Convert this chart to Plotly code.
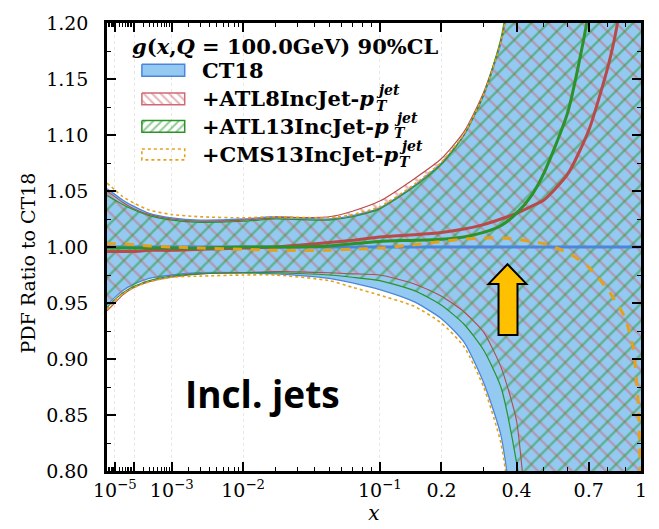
import numpy as np
import plotly.graph_objects as go

# ---------------- data ----------------
P = 0.2815  # power used for the x-axis scale

X = [2e-6, 1e-5, 3e-5, 1e-4, 3e-4, 1e-3, 3e-3, 0.01, 0.02, 0.05, 0.07, 0.1, 0.15, 0.2,
     0.25, 0.3, 0.35, 0.4, 0.45, 0.5, 0.6, 0.7, 0.8, 0.85, 0.9, 0.95, 0.98, 1.0]

CT18_up = [1.052, 1.047, 1.042, 1.036, 1.030, 1.026, 1.024, 1.025, 1.027, 1.025, 1.028, 1.035, 1.055, 1.075,
           1.100, 1.135, 1.182, 1.26, 1.35, 1.45, 1.6, 1.8, 2.0, 2.1, 2.2, 2.3, 2.4, 2.5]
CT18_lo = [0.948, 0.955, 0.961, 0.967, 0.972, 0.975, 0.977, 0.977, 0.976, 0.972, 0.968, 0.962, 0.951, 0.936,
           0.915, 0.879, 0.832, 0.74, 0.68, 0.62, 0.5, 0.4, 0.3, 0.25, 0.2, 0.15, 0.12, 0.1]
CT18_c = [1.000, 1.000, 1.000, 1.000, 1.000, 1.000, 1.000, 1.000, 1.000, 1.000, 1.000, 1.000, 1.000, 1.000,
          1.000, 1.000, 1.000, 1.000, 1.000, 1.000, 1.000, 1.000, 1.000, 1.000, 1.000, 1.000, 1.000, 1.000]

ATL8_up = [1.050, 1.045, 1.040, 1.034, 1.029, 1.025, 1.023, 1.024, 1.026, 1.027, 1.032, 1.041, 1.061, 1.079,
           1.103, 1.138, 1.184, 1.26, 1.35, 1.45, 1.6, 1.8, 2.0, 2.1, 2.2, 2.3, 2.4, 2.5]
ATL8_lo = [0.943, 0.950, 0.957, 0.964, 0.969, 0.973, 0.976, 0.977, 0.978, 0.977, 0.976, 0.975, 0.967, 0.956,
           0.942, 0.924, 0.893, 0.845, 0.72, 0.64, 0.52, 0.42, 0.32, 0.27, 0.22, 0.17, 0.13, 0.1]
ATL8_c = [0.996, 0.996, 0.996, 0.996, 0.997, 0.997, 0.998, 0.999, 1.000, 1.004, 1.006, 1.009, 1.011, 1.013,
          1.016, 1.020, 1.025, 1.030, 1.036, 1.042, 1.065, 1.104, 1.160, 1.195, 1.25, 1.31, 1.35, 1.38]

ATL13_up = [1.046, 1.042, 1.038, 1.033, 1.028, 1.024, 1.022, 1.023, 1.025, 1.024, 1.027, 1.034, 1.054, 1.074,
            1.100, 1.136, 1.186, 1.27, 1.35, 1.45, 1.6, 1.8, 2.0, 2.1, 2.2, 2.3, 2.4, 2.5]
ATL13_lo = [0.946, 0.953, 0.959, 0.965, 0.970, 0.974, 0.976, 0.977, 0.977, 0.975, 0.973, 0.970, 0.961, 0.948,
            0.931, 0.908, 0.875, 0.808, 0.72, 0.64, 0.52, 0.42, 0.32, 0.27, 0.22, 0.17, 0.13, 0.1]
ATL13_c = [0.999, 0.999, 0.999, 0.999, 0.999, 0.999, 0.999, 1.000, 1.000, 1.001, 1.003, 1.005, 1.006, 1.007,
           1.009, 1.013, 1.019, 1.030, 1.045, 1.066, 1.120, 1.210, 1.35, 1.42, 1.50, 1.58, 1.63, 1.66]

CMS13_up = [1.057, 1.051, 1.045, 1.039, 1.033, 1.029, 1.027, 1.026, 1.027, 1.026, 1.029, 1.036, 1.056, 1.076,
            1.101, 1.136, 1.183, 1.26, 1.35, 1.45, 1.6, 1.8, 2.0, 2.1, 2.2, 2.3, 2.4, 2.5]
CMS13_lo = [0.944, 0.952, 0.958, 0.964, 0.969, 0.973, 0.974, 0.975, 0.975, 0.970, 0.964, 0.957, 0.947, 0.932,
            0.911, 0.875, 0.825, 0.73, 0.66, 0.6, 0.5, 0.4, 0.3, 0.25, 0.2, 0.15, 0.12, 0.1]
CMS13_c = [1.003, 1.003, 1.003, 1.002, 1.001, 1.000, 0.999, 0.998, 0.997, 0.997, 0.998, 0.999, 1.002, 1.005,
           1.007, 1.008, 1.008, 1.007, 1.005, 1.003, 0.995, 0.982, 0.962, 0.950, 0.937, 0.910, 0.865, 0.78]

XTICK_VALS = [1e-5, 1e-4, 1e-3, 1e-2, 1e-1, 0.2, 0.4, 0.7, 1.0]
XTICK_TEXT = ["10<sup>\u22125</sup>", "", "10<sup>\u22123</sup>", "10<sup>\u22122</sup>",
              "10<sup>\u22121</sup>", "0.2", "0.4", "0.7", "1"]
XMINOR_EXTRA = [0.3, 0.5, 0.6, 0.8, 0.9]

LEGEND_STEMS = ["CT18", "+ATL8IncJet-<i>p</i>", "+ATL13IncJet-<i>p</i>", "+CMS13IncJet-<i>p</i>"]

# ---------------- helpers ----------------
def tr(v):
    return np.power(np.asarray(v, dtype=float), P)

tx = tr(X)

def band_xy(up, lo):
    xs = np.concatenate([tx, tx[::-1]])
    ys = np.concatenate([np.asarray(up), np.asarray(lo)[::-1]])
    return xs, ys

BLUE = "#4a86dc"
BLUE_FILL = "#94c9f2"
RED = "#b84a4a"
RED_H = "#cf6a74"
GREEN = "#2a932a"
GREEN_H = "#2c982c"
ORANGE = "#e6a11c"
FONT = "DejaVu Serif"

fig = go.Figure()

SM = 0.6
xs, ys = band_xy(CT18_up, CT18_lo)
fig.add_trace(go.Scatter(x=xs, y=ys, fill="toself", fillcolor=BLUE_FILL, mode="lines",
                         line=dict(color=BLUE, width=1.3, shape="spline", smoothing=SM),
                         showlegend=False, hoverinfo="skip"))
xs, ys = band_xy(ATL8_up, ATL8_lo)
fig.add_trace(go.Scatter(x=xs, y=ys, fill="toself", fillcolor="rgba(0,0,0,0)", mode="lines",
                         fillpattern=dict(shape="\\", fgcolor=RED_H, size=12, solidity=0.2),
                         line=dict(color=RED, width=1.1, shape="spline", smoothing=SM),
                         showlegend=False, hoverinfo="skip"))
xs, ys = band_xy(ATL13_up, ATL13_lo)
fig.add_trace(go.Scatter(x=xs, y=ys, fill="toself", fillcolor="rgba(0,0,0,0)", mode="lines",
                         fillpattern=dict(shape="/", fgcolor=GREEN_H, size=12, solidity=0.2),
                         line=dict(color=GREEN, width=1.2, shape="spline", smoothing=SM),
                         showlegend=False, hoverinfo="skip"))
xs, ys = band_xy(CMS13_up, CMS13_lo)
fig.add_trace(go.Scatter(x=xs, y=ys, mode="lines",
                         line=dict(color=ORANGE, width=1.6, dash="dot", shape="spline", smoothing=SM),
                         showlegend=False, hoverinfo="skip"))

for yc, col, dash in [(CT18_c, BLUE, "solid"), (ATL8_c, RED, "solid"),
                      (ATL13_c, GREEN, "solid"), (CMS13_c, ORANGE, "dash")]:
    fig.add_trace(go.Scatter(x=tx, y=yc, mode="lines",
                             line=dict(color=col, width=3, dash=dash, shape="spline", smoothing=SM),
                             showlegend=False, hoverinfo="skip"))

# ---------------- manual legend keys (overlay axes in pixel units) ----------------
L, R, T, B = 107, 16, 18, 56
W, H = 659, 529
pw, ph = W - L - R, H - T - B

KEY_X0, KEY_X1 = 142, 185
KEY_ROWS = [(60, 72), (89, 101), (117, 129), (146, 157)]

def rect(i):
    y0, y1 = KEY_ROWS[i]
    return ([KEY_X0, KEY_X1, KEY_X1, KEY_X0, KEY_X0], [y0, y0, y1, y1, y0])

kx, ky = rect(0)
fig.add_trace(go.Scatter(x=kx, y=ky, xaxis="x2", yaxis="y2", fill="toself", fillcolor=BLUE_FILL,
                         mode="lines", line=dict(color=BLUE, width=1.5), showlegend=False,
                         hoverinfo="skip"))
kx, ky = rect(1)
fig.add_trace(go.Scatter(x=kx, y=ky, xaxis="x2", yaxis="y2", fill="toself",
                         fillcolor="rgba(0,0,0,0)",
                         fillpattern=dict(shape="\\", fgcolor=RED_H, size=6, solidity=0.35),
                         mode="lines", line=dict(color=RED_H, width=1.5), showlegend=False,
                         hoverinfo="skip"))
kx, ky = rect(2)
fig.add_trace(go.Scatter(x=kx, y=ky, xaxis="x2", yaxis="y2", fill="toself",
                         fillcolor="rgba(0,0,0,0)",
                         fillpattern=dict(shape="/", fgcolor=GREEN_H, size=6, solidity=0.35),
                         mode="lines", line=dict(color=GREEN, width=1.5), showlegend=False,
                         hoverinfo="skip"))
kx, ky = rect(3)
fig.add_trace(go.Scatter(x=kx, y=ky, xaxis="x2", yaxis="y2", mode="lines",
                         line=dict(color=ORANGE, width=1.6, dash="dot"), showlegend=False,
                         hoverinfo="skip"))

# minor ticks
minor = []
for d in [1e-6, 1e-5, 1e-4, 1e-3, 1e-2]:
    for k in range(2, 10):
        v = k * d
        if v >= X[0]:
            minor.append(v)
minor += XMINOR_EXTRA

fig.update_xaxes(range=[float(tx[0]), 1.0], tickmode="array", tickvals=tr(XTICK_VALS),
                 ticktext=XTICK_TEXT, ticks="inside", ticklen=9, tickwidth=1.5, tickcolor="black",
                 showline=True, linecolor="black", linewidth=2.5, mirror="allticks",
                 showgrid=True, gridcolor="#e6e6e6", griddash="dot", zeroline=False,
                 minor=dict(tickvals=tr(minor), ticks="inside", ticklen=4.5, tickwidth=1.2,
                            tickcolor="black", showgrid=False),
                 tickfont=dict(family=FONT, size=19, color="black"),
                 title=dict(text="<i>x</i>", font=dict(family=FONT, size=20, color="black"),
                            standoff=2))
fig.update_yaxes(range=[0.8, 1.2], tickmode="linear", tick0=0.8, dtick=0.05, tickformat=".2f",
                 ticks="inside", ticklen=9, tickwidth=1.5, tickcolor="black",
                 showline=True, linecolor="black", linewidth=2.5, mirror="allticks",
                 showgrid=False, zeroline=False, ticklabelstandoff=12,
                 minor=dict(dtick=0.025, ticks="inside", ticklen=4.5, tickwidth=1.2,
                            tickcolor="black", showgrid=False),
                 tickfont=dict(family=FONT, size=19, color="black"))

def px(xp):
    return (xp - L) / pw

def py(yp):
    return 1 - (yp - T) / ph

arrow = [(509, 263), (528, 283), (519, 283), (519, 335), (500, 335), (500, 283), (490, 283)]
path = "M " + " L ".join(f"{px(a):.4f},{py(b):.4f}" for a, b in arrow) + " Z"

LEG_FONT = dict(family=FONT, size=21, color="black", weight="bold")
SUB_FONT = dict(family=FONT, size=14, color="black", weight="bold")
TEXT_X = 200
ROW_Y = [66, 95, 123, 152]
SUP_X = [None, 375, 393, 398]

ann = [
    dict(xref="paper", yref="paper", x=px(130), y=py(42), xanchor="left", yanchor="middle",
         text="<i>g</i>(<i>x</i>,<i>Q</i> = 100.0GeV) 90%CL", showarrow=False,
         font=dict(family=FONT, size=21, color="black", weight="bold")),
    dict(xref="paper", yref="paper", x=px(263), y=py(394), xanchor="center", yanchor="middle",
         text="<b>Incl. jets</b>", showarrow=False,
         font=dict(family="Open Sans", size=37, color="black")),
    dict(xref="paper", yref="paper", x=px(28), y=py(262), xanchor="center", yanchor="middle",
         text="PDF Ratio to CT18", textangle=-90, showarrow=False,
         font=dict(family=FONT, size=19, color="black")),
]
for i, stem in enumerate(LEGEND_STEMS):
    ann.append(dict(xref="paper", yref="paper", x=px(TEXT_X), y=py(ROW_Y[i]), xanchor="left",
                    yanchor="middle", text=stem, showarrow=False, font=LEG_FONT))
    if SUP_X[i] is not None:
        ann.append(dict(xref="paper", yref="paper", x=px(SUP_X[i]), y=py(ROW_Y[i] - 9),
                        xanchor="left", yanchor="middle", text="<i>jet</i>", showarrow=False,
                        font=SUB_FONT))
        ann.append(dict(xref="paper", yref="paper", x=px(SUP_X[i]), y=py(ROW_Y[i] + 7),
                        xanchor="left", yanchor="middle", text="<i>T</i>", showarrow=False,
                        font=SUB_FONT))

fig.update_layout(
    width=W, height=H, margin=dict(l=L, r=R, t=T, b=B),
    plot_bgcolor="white", paper_bgcolor="white",
    showlegend=False,
    xaxis2=dict(overlaying="x", range=[L, W - R], visible=False, fixedrange=True),
    yaxis2=dict(overlaying="y", range=[H - B, T], visible=False, fixedrange=True),
    shapes=[dict(type="path", xref="paper", yref="paper", path=path,
                 fillcolor="#ffc000", line=dict(color="black", width=2))],
    annotations=ann,
)

fig.write_html("out.html")
